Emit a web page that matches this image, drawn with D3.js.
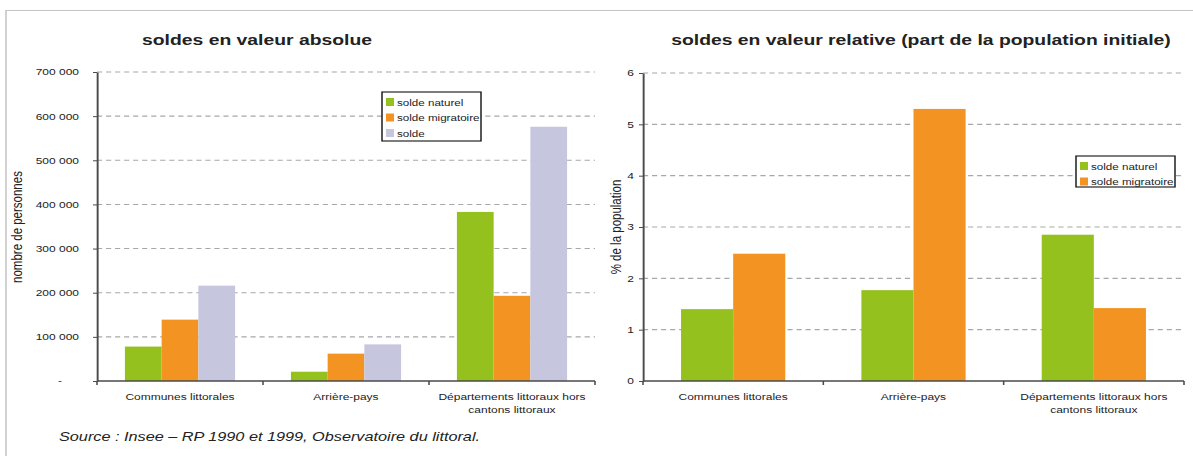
<!DOCTYPE html>
<html>
<head>
<meta charset="utf-8">
<script src="https://cdn.jsdelivr.net/npm/d3@7"></script>
<style>
    html, body { margin: 0; padding: 0; background: #fff; }
    svg { display: block; }
    text { font-family: "Liberation Sans", Arial, sans-serif; fill: #222; }
</style>
</head>
<body>
<div id="chart"></div>
<script>

// data
var categories = ["Communes littorales", "Arrière-pays", "Départements littoraux hors cantons littoraux"];

var absSeries = ["solde naturel", "solde migratoire", "solde"];
var absNaturel = [78000, 21000, 383000];
var absMigratoire = [139000, 62000, 193000];
var absSolde = [216000, 83000, 576000];
var absTicks = [0, 100000, 200000, 300000, 400000, 500000, 600000, 700000];

var relSeries = ["solde naturel", "solde migratoire"];
var relNaturel = [1.40, 1.77, 2.85];
var relMigratoire = [2.48, 5.30, 1.42];
var relTicks = [0, 1, 2, 3, 4, 5, 6];

var gColors = ["#95c11f", "#f39422", "#c6c6de"];

// the original picture is stretched sideways, so the whole svg is too
var K = 1.29;
var W = 1193, H = 456;
function px(x){ return x / K; }

var svg = d3.select("#chart").append("svg")
    .attr("width", W)
    .attr("height", H)
    .attr("viewBox", [0, 0, W / K, H].join(" "))
    .attr("preserveAspectRatio", "none");

// light frame
svg.append("line").attr("x1", px(6)).attr("x2", px(W)).attr("y1", 10.5).attr("y2", 10.5)
    .attr("stroke", "#c4c4c4").attr("stroke-width", 1.2);
svg.append("line").attr("x1", px(6)).attr("x2", px(6)).attr("y1", 10).attr("y2", H)
    .attr("stroke", "#c4c4c4").attr("stroke-width", 1.2);

var frLocale = d3.formatLocale({decimal: ",", thousands: " ", grouping: [3], currency: ["", " €"]});

//---------------------------------------------------------------
function wrapLabel(pText, pWidth){
    pText.each(function(){
        var text = d3.select(this),
            words = text.text().split(/\s+/),
            line = [],
            x = text.attr("x");
        text.text(null);
        var tspan = text.append("tspan").attr("x", x).attr("dy", 0);
        words.forEach(function(w){
            line.push(w);
            tspan.text(line.join(" "));
            if(tspan.node().getComputedTextLength() > pWidth && line.length > 1){
                line.pop();
                tspan.text(line.join(" "));
                line = [w];
                tspan = text.append("tspan").attr("x", x).attr("dy", 13).text(w);
            }
        });
    });
}

//---------------------------------------------------------------
function drawChart(pConfig){
    var g = svg.append("g");
    var x0 = px(pConfig.left), x1 = px(pConfig.right);

    var x = d3.scaleBand().domain(categories).range([x0, x1]).padding(0);
    var xs = d3.scaleBand().domain(pConfig.series).range([0, x.bandwidth()])
        .paddingInner(0).paddingOuter(pConfig.groupPad);
    var y = d3.scaleLinear().domain([0, pConfig.yMax]).range([pConfig.bottom, pConfig.top]);

    // dashed grid
    g.append("g").selectAll("line")
        .data(pConfig.ticks.filter(function(d){ return d > 0; }))
        .join("line")
        .attr("x1", x0).attr("x2", x1)
        .attr("y1", function(d){ return y(d); })
        .attr("y2", function(d){ return y(d); })
        .attr("stroke", "#a8a8a8")
        .attr("stroke-width", 1.1)
        .attr("stroke-dasharray", "4,3");

    // bars
    var rows = [];
    categories.forEach(function(c, i){
        pConfig.series.forEach(function(s, j){
            rows.push({cat: c, serie: s, idx: j, value: pConfig.values[j][i]});
        });
    });
    g.append("g").selectAll("rect")
        .data(rows)
        .join("rect")
        .attr("x", function(d){ return x(d.cat) + xs(d.serie); })
        .attr("width", xs.bandwidth())
        .attr("y", function(d){ return y(d.value); })
        .attr("height", function(d){ return y(0) - y(d.value); })
        .attr("fill", function(d){ return gColors[d.idx]; });

    // y axis
    var yAxis = g.append("g")
        .attr("transform", "translate(" + x0 + ",0)")
        .call(d3.axisLeft(y).tickValues(pConfig.ticks).tickFormat(pConfig.fmt)
            .tickSizeInner(px(4)).tickSizeOuter(0).tickPadding(pConfig.labelPad));
    yAxis.select(".domain").attr("stroke", "#4a4a4a").attr("stroke-width", 1.5);
    yAxis.selectAll(".tick line").attr("stroke", "#4a4a4a");
    yAxis.selectAll("text").attr("font-size", 9.3).style("fill", "#222");
    if(pConfig.zeroDx){
        yAxis.selectAll(".tick text").filter(function(d){ return d === 0; })
            .attr("dx", px(pConfig.zeroDx));
    }

    // x axis, ticks between the categories
    g.append("line")
        .attr("x1", x0).attr("x2", x1)
        .attr("y1", y(0)).attr("y2", y(0))
        .attr("stroke", "#4a4a4a").attr("stroke-width", 1.5);
    var bounds = categories.map(function(c){ return x(c); }).concat([x1]);
    g.append("g").selectAll("line")
        .data(bounds)
        .join("line")
        .attr("x1", function(d){ return d; }).attr("x2", function(d){ return d; })
        .attr("y1", y(0)).attr("y2", y(0) + 4)
        .attr("stroke", "#4a4a4a").attr("stroke-width", 1.2);

    g.append("g").selectAll("text")
        .data(categories)
        .join("text")
        .attr("x", function(d){ return x(d) + x.bandwidth() / 2; })
        .attr("y", y(0) + 19)
        .attr("text-anchor", "middle")
        .attr("font-size", 9.3)
        .text(function(d){ return d; })
        .call(wrapLabel, x.bandwidth() * 0.92);

    // titles
    g.append("text")
        .attr("x", px(pConfig.titleX))
        .attr("y", 45)
        .attr("text-anchor", "middle")
        .attr("font-size", 15)
        .attr("font-weight", "bold")
        .text(pConfig.title);

    g.append("text")
        .attr("transform", "translate(" + px(pConfig.yTitleX) + "," + pConfig.yTitleY + ") rotate(-90)")
        .attr("text-anchor", "middle")
        .attr("font-size", 11.5)
        .text(pConfig.yTitle);

    // legend
    var lg = pConfig.legend;
    var leg = g.append("g");
    leg.append("rect")
        .attr("x", px(lg.x)).attr("y", lg.y)
        .attr("width", px(lg.w)).attr("height", lg.h)
        .attr("fill", "#fff").attr("stroke", "#111").attr("stroke-width", 1.1);
    var items = leg.selectAll("g.item")
        .data(pConfig.series)
        .join("g")
        .attr("class", "item")
        .attr("transform", function(d, i){ return "translate(" + px(lg.x + 4) + "," + (lg.y + 10 + i * 15.5) + ")"; });
    items.append("rect")
        .attr("x", 0).attr("y", -4)
        .attr("width", px(8)).attr("height", 8)
        .attr("fill", function(d, i){ return gColors[i]; });
    items.append("text")
        .attr("x", px(11)).attr("y", 3.5)
        .attr("font-size", 9)
        .text(function(d){ return d; });
}

drawChart({
    left: 97, right: 595, top: 72, bottom: 381,
    yMax: 700000, ticks: absTicks,
    fmt: function(d){ return d === 0 ? "-" : frLocale.format(",")(d); },
    zeroDx: -17,
    labelPad: px(14),
    series: absSeries,
    values: [absNaturel, absMigratoire, absSolde],
    groupPad: 0.76,
    title: "soldes en valeur absolue", titleX: 257,
    yTitle: "nombre de personnes", yTitleX: 22, yTitleY: 227,
    legend: {x: 382, y: 92, w: 99, h: 49}
});

drawChart({
    left: 643, right: 1184, top: 73, bottom: 381,
    yMax: 6, ticks: relTicks,
    fmt: d3.format("d"),
    labelPad: px(5),
    series: relSeries,
    values: [relNaturel, relMigratoire],
    groupPad: 0.73,
    title: "soldes en valeur relative (part de la population initiale)", titleX: 921,
    yTitle: "% de la population", yTitleX: 621, yTitleY: 227,
    legend: {x: 1076, y: 156, w: 99, h: 31}
});

svg.append("text")
    .attr("x", px(59))
    .attr("y", 441)
    .attr("font-size", 12.6)
    .attr("font-style", "italic")
    .text("Source : Insee – RP 1990 et 1999, Observatoire du littoral.");

</script>
</body>
</html>
